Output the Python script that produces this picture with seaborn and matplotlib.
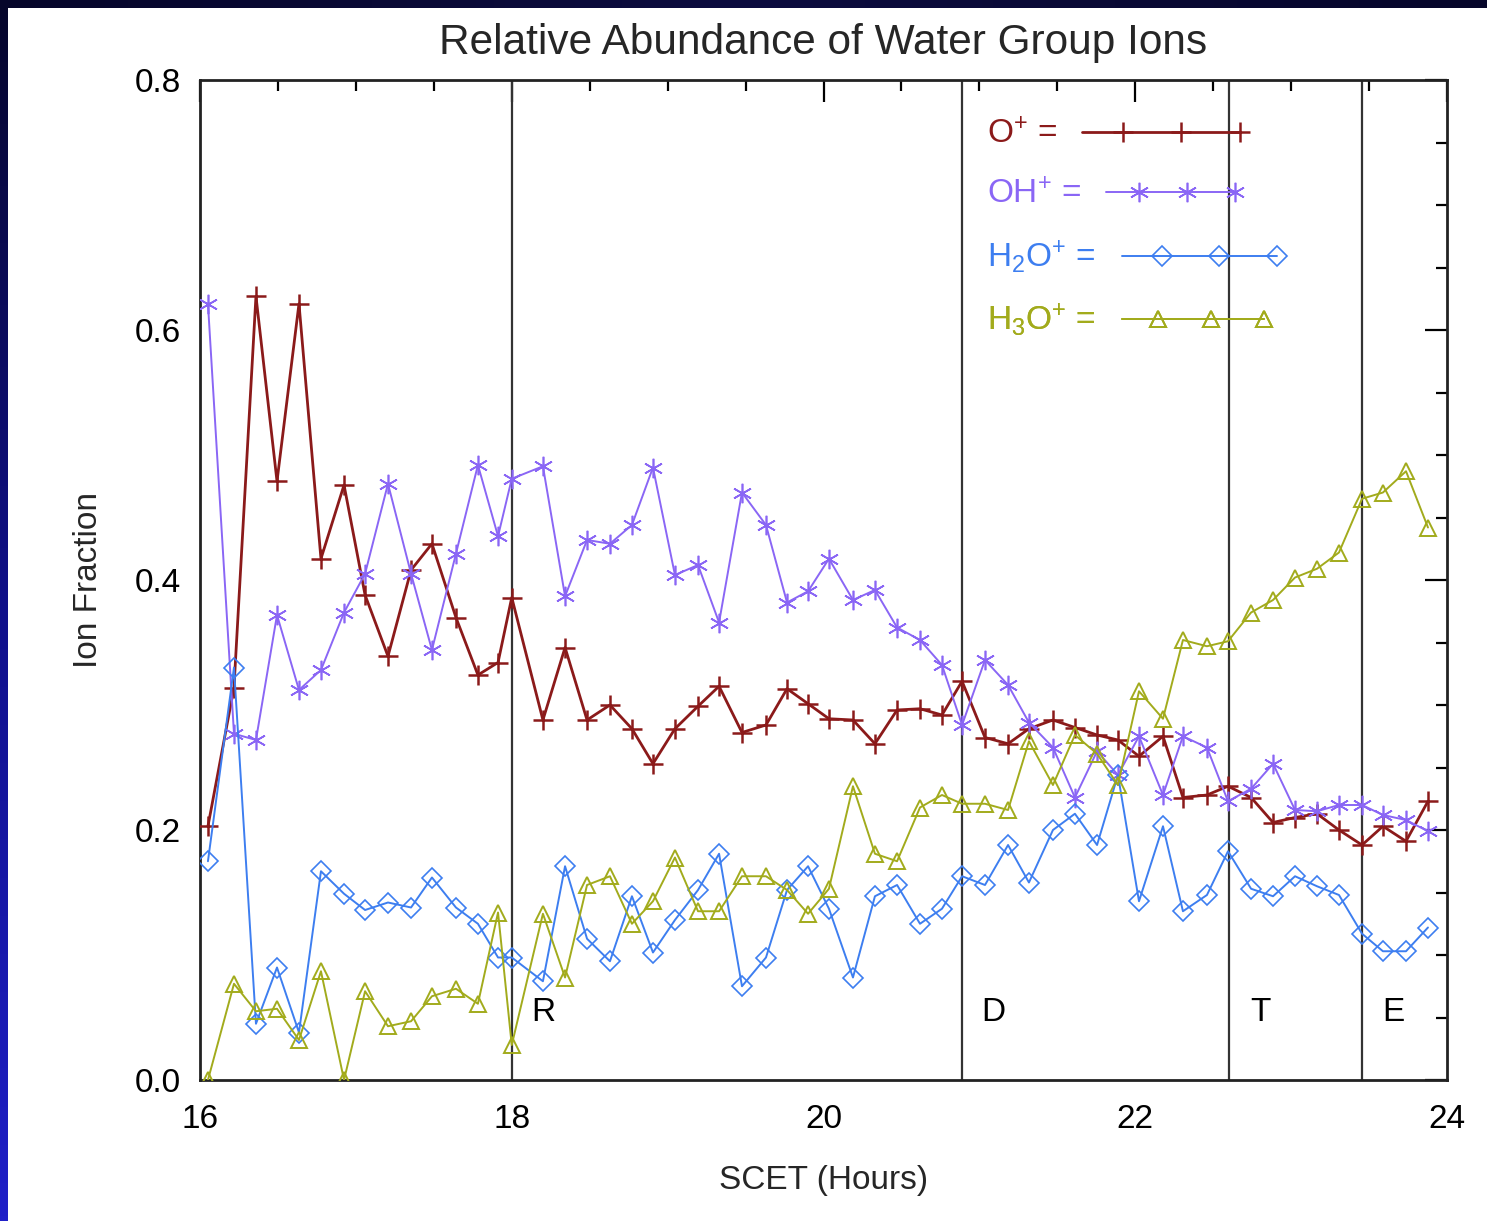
import numpy as np
import pandas as pd
import matplotlib
matplotlib.use("Agg")
import matplotlib.pyplot as plt
import seaborn as sns
from matplotlib.ticker import MultipleLocator
from matplotlib.legend_handler import HandlerLine2D
from matplotlib.lines import Line2D
from matplotlib.colors import LinearSegmentedColormap

# ---------------- data ----------------
time_h = [16.051, 16.218, 16.359, 16.494, 16.635, 16.776, 16.924, 17.059, 17.206, 17.354,
          17.488, 17.642, 17.783, 17.912, 18.000, 18.200, 18.342, 18.483, 18.630, 18.771,
          18.906, 19.047, 19.195, 19.330, 19.477, 19.631, 19.766, 19.901, 20.035, 20.189,
          20.330, 20.472, 20.619, 20.760, 20.889, 21.036, 21.184, 21.318, 21.472, 21.613,
          21.755, 21.889, 22.024, 22.178, 22.306, 22.460, 22.595, 22.743, 22.884, 23.025,
          23.166, 23.307, 23.455, 23.589, 23.737, 23.878]

o_plus = [0.203, 0.314, 0.627, 0.479, 0.621, 0.417, 0.476, 0.388, 0.339, 0.408,
          0.429, 0.370, 0.324, 0.334, 0.386, 0.288, 0.346, 0.288, 0.300, 0.281,
          0.253, 0.281, 0.299, 0.315, 0.278, 0.284, 0.313, 0.301, 0.289, 0.288,
          0.269, 0.296, 0.297, 0.292, 0.319, 0.274, 0.269, 0.281, 0.288, 0.282,
          0.276, 0.272, 0.259, 0.275, 0.226, 0.228, 0.235, 0.226, 0.206, 0.210,
          0.213, 0.200, 0.188, 0.203, 0.191, 0.223]

oh_plus = [0.621, 0.277, 0.272, 0.372, 0.312, 0.328, 0.374, 0.405, 0.477, 0.405,
           0.344, 0.421, 0.492, 0.435, 0.481, 0.491, 0.387, 0.432, 0.429, 0.444,
           0.490, 0.404, 0.412, 0.366, 0.470, 0.444, 0.382, 0.391, 0.417, 0.384,
           0.392, 0.362, 0.352, 0.332, 0.284, 0.336, 0.316, 0.286, 0.266, 0.226,
           0.263, 0.244, 0.275, 0.228, 0.275, 0.266, 0.223, 0.233, 0.253, 0.216,
           0.215, 0.220, 0.220, 0.212, 0.208, 0.199]

h2o_plus = [0.175, 0.330, 0.045, 0.090, 0.038, 0.167, 0.149, 0.136, 0.142, 0.138,
            0.162, 0.138, 0.125, 0.098, 0.098, 0.079, 0.171, 0.113, 0.095, 0.147,
            0.102, 0.128, 0.152, 0.181, 0.075, 0.098, 0.152, 0.171, 0.137, 0.082,
            0.147, 0.156, 0.125, 0.137, 0.163, 0.156, 0.188, 0.158, 0.200, 0.213,
            0.188, 0.244, 0.143, 0.203, 0.135, 0.148, 0.183, 0.153, 0.147, 0.163,
            0.155, 0.148, 0.117, 0.103, 0.103, 0.122]

h3o_plus = [0.000, 0.077, 0.055, 0.057, 0.032, 0.087, 0.000, 0.071, 0.043, 0.047,
            0.067, 0.073, 0.061, 0.134, 0.028, 0.133, 0.082, 0.156, 0.163, 0.125,
            0.143, 0.178, 0.135, 0.135, 0.163, 0.163, 0.152, 0.133, 0.153, 0.235,
            0.181, 0.175, 0.218, 0.228, 0.221, 0.221, 0.216, 0.271, 0.236, 0.276,
            0.261, 0.236, 0.311, 0.289, 0.352, 0.347, 0.351, 0.374, 0.384, 0.402,
            0.409, 0.422, 0.465, 0.470, 0.487, 0.442]

ion_names = ["O+", "OH+", "H2O+", "H3O+"]
legend_labels = ["O$^{+}$ =", "OH$^{+}$ =", "H$_{2}$O$^{+}$ =", "H$_{3}$O$^{+}$ ="]
event_times = [18.0, 20.89, 22.60, 23.455]
event_labels = ["R", "D", "T", "E"]
x_ticks = [16, 18, 20, 22, 24]
y_ticks = [0.0, 0.2, 0.4, 0.6, 0.8]
title_text = "Relative Abundance of Water Group Ions"
x_label = "SCET (Hours)"
y_label = "Ion Fraction"

# ---------------- build table ----------------
df = pd.DataFrame({"time": time_h, "O+": o_plus, "OH+": oh_plus,
                   "H2O+": h2o_plus, "H3O+": h3o_plus})
long_df = df.melt(id_vars="time", var_name="ion", value_name="fraction")

# ---------------- style ----------------
sns.set_style("white")
plt.rcParams["font.family"] = ["Liberation Sans", "DejaVu Sans"]
plt.rcParams["mathtext.default"] = "regular"

colors = {"O+": "#8b1a1a", "OH+": "#8a66f5", "H2O+": "#3d7ef0", "H3O+": "#a2ab1c"}
styles = {
    "O+":   dict(marker="+", markersize=15, markeredgewidth=1.8, linewidth=2.0),
    "OH+":  dict(marker=(6, 2, 0), markersize=14, markeredgewidth=1.2, linewidth=1.4),
    "H2O+": dict(marker="D", markersize=10, markeredgewidth=1.2, linewidth=1.4,
                 markerfacecolor="none"),
    "H3O+": dict(marker="^", markersize=11, markeredgewidth=1.4, linewidth=1.4,
                 markerfacecolor="none"),
}
# legend layout (row centre in axes fraction, handle length / pad in font units)
legend_rows = [0.950, 0.890, 0.828, 0.765]
legend_handle_len = [4.9, 4.0, 4.8, 4.4]
legend_text_pad = [0.75, 0.75, 0.8, 0.8]


class LeadHandler(HandlerLine2D):
    """Line sample '-x-x-x': starts with a dash and ends on a marker."""

    def __init__(self, lead=0.25, **kw):
        super().__init__(**kw)
        self.lead = lead

    def create_artists(self, legend, orig_handle, xdescent, ydescent, width,
                       height, fontsize, trans):
        x0, x1 = -xdescent, -xdescent + width
        xm = np.linspace(x0 + self.lead * width, x1 - 0.03 * width, 3)
        xdata = np.concatenate([[x0], xm])
        ydata = np.full_like(xdata, (height - ydescent) / 2)
        legline = Line2D(xdata, ydata)
        self.update_prop(legline, orig_handle, legend)
        legline.set_markevery([1, 2, 3])
        if legend.markerscale != 1:
            legline.set_markersize(legline.get_markersize() * legend.markerscale)
        legline.set_transform(trans)
        return [legline]


W, H = 1487, 1221
fig = plt.figure(figsize=(W / 100, H / 100), dpi=100)
fig.patch.set_facecolor("white")

# dark border strips (left gradient + top band)
left = fig.add_axes([0, 0, 8 / W, 1])
cmap_l = LinearSegmentedColormap.from_list("l", ["#06062a", "#10108a", "#2020c8"])
left.imshow(np.linspace(0, 1, 256).reshape(-1, 1), aspect="auto", cmap=cmap_l,
            origin="upper", extent=[0, 1, 0, 1])
left.set_axis_off()
top = fig.add_axes([0, 1 - 8 / H, 1, 8 / H])
cmap_t = LinearSegmentedColormap.from_list("t", ["#06062a", "#0c0c40", "#06062a"])
top.imshow(np.linspace(0, 1, 256).reshape(1, -1), aspect="auto", cmap=cmap_t,
           extent=[0, 1, 0, 1])
top.set_axis_off()

ax = fig.add_axes([200 / W, (H - 1080) / H, 1247 / W, 1000 / H])
ax.set_facecolor("white")

# event lines
for t in event_times:
    ax.axvline(t, color="#333333", linewidth=1.6, zorder=1)
for t, lab in zip(event_times, event_labels):
    ax.text(t + 0.2, 0.054, lab, fontsize=24, ha="center", va="center", color="black")

handles = []
for name, lab in zip(ion_names, legend_labels):
    sub = long_df[long_df["ion"] == name]
    st = dict(styles[name])
    sns.lineplot(data=sub, x="time", y="fraction", ax=ax, color=colors[name],
                 markeredgecolor=colors[name], estimator=None, sort=False,
                 legend=False, zorder=3, **st)
    line = ax.lines[-1]
    line.set_label(lab)
    handles.append(line)

ax.set_xlim(16, 24)
ax.set_ylim(0, 0.8)
ax.set_xticks(x_ticks)
ax.set_yticks(y_ticks)
ax.set_xticklabels([str(v) for v in x_ticks])
ax.set_yticklabels([f"{v:.1f}" for v in y_ticks])
ax.xaxis.set_minor_locator(MultipleLocator(0.5))
ax.yaxis.set_minor_locator(MultipleLocator(0.05))
ax.tick_params(which="both", direction="in", top=True, right=True, colors="black",
               width=1.6)
ax.tick_params(which="major", length=16, labelsize=24)
ax.tick_params(axis="y", which="major", pad=14)
ax.tick_params(axis="x", which="major", pad=17)
ax.tick_params(which="minor", length=8)
for sp in ax.spines.values():
    sp.set_linewidth(2.0)
    sp.set_color("#222222")

ax.set_xlabel(x_label, fontsize=24, labelpad=22)
ax.set_ylabel(y_label, fontsize=24, labelpad=22)
ax.set_title(title_text, fontsize=30.5, pad=19)

# one legend per row so that the labels are left-aligned like the reference
for h, yrow, hl, tp in zip(handles, legend_rows, legend_handle_len, legend_text_pad):
    leg = ax.legend(handles=[h], loc="center left", bbox_to_anchor=(0.631, yrow - 0.005),
                    frameon=False, markerfirst=False, handlelength=hl,
                    handletextpad=tp, fontsize=24, labelcolor="linecolor",
                    borderpad=0, borderaxespad=0, markerscale=1.0,
                    handler_map={h: LeadHandler(lead=0.25)})
    ax.add_artist(leg)

fig.savefig("out.png", dpi=100, facecolor=fig.get_facecolor())
